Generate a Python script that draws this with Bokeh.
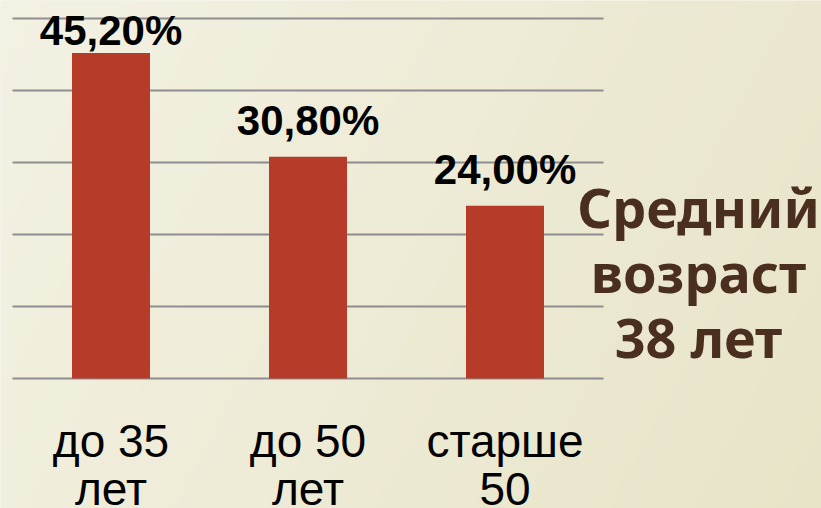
import numpy as np
from bokeh.plotting import figure
from bokeh.models import Range1d
from bokeh.core.properties import value
from bokeh.embed import file_html
from bokeh.resources import INLINE

# ---- data ----
categories = ["до 35\nлет", "до 50\nлет", "старше\n50"]
shares = [45.2, 30.8, 24.0]
share_labels = ["45,20%", "30,80%", "24,00%"]
grid_ticks = [0, 10, 20, 30, 40, 50]
note_lines = ["Средний", "возраст", "38 лет"]

# ---- layout ----
W, H = 821, 508
PX_X = 197.0   # pixels per category slot
PX_Y = 7.2     # pixels per percent
X0 = 12        # pixel column of x = 0
Y0 = 378       # pixel row of y = 0


def xdata(px):
    return (px - X0) / PX_X


def ydata(py):
    return (Y0 - py) / PX_Y


p = figure(width=W, height=H, output_backend="svg", toolbar_location=None,
           x_range=Range1d(xdata(0), xdata(W)), y_range=Range1d(ydata(H), ydata(0)),
           x_axis_location=None, y_axis_location=None, min_border=0,
           background_fill_color="#eeebd6", border_fill_color="#eeebd6",
           outline_line_color=None)
p.grid.visible = False

# soft cream background gradient (light top-left -> warmer right)
GX, GY = 164, 102
gx = np.linspace(0, 1, GX)[None, :]
gy = np.linspace(0, 1, GY)[:, None]
t = np.clip(0.75 * gx + 0.25 * gy, 0, 1)
c0 = np.array([243, 241, 227])
c1 = np.array([232, 228, 200])
rgb = c0[None, None, :] * (1 - t[..., None]) + c1[None, None, :] * t[..., None]
rgba = np.empty((GY, GX, 4), dtype=np.uint8)
rgba[..., :3] = np.round(rgb).astype(np.uint8)
rgba[..., 3] = 255
rgba = rgba[::-1]  # row 0 is the bottom of the image
img = rgba.view(dtype=np.uint32).reshape((GY, GX))
p.image_rgba(image=[img], x=xdata(0), y=ydata(H), dw=xdata(W) - xdata(0), dh=ydata(0) - ydata(H))

n = len(categories)
xs = [i + 0.5 for i in range(n)]

# grid lines + axis line
p.segment(x0=[0] * len(grid_ticks), x1=[n] * len(grid_ticks), y0=grid_ticks, y1=grid_ticks,
          line_color="#8e8e8e", line_width=2)

# bars
p.vbar(x=xs, top=shares, bottom=0, width=78 / PX_X, fill_color="#b63b28", line_color=None)

# value labels (screen offset from bar top; first one is held below the top edge)
VAL_FS = 42
val_shift = 0.33 * VAL_FS
offsets = []
for v in shares:
    top_px = Y0 - v * PX_Y
    base = max(top_px - 22, 44)
    offsets.append(base - top_px - val_shift)
p.text(x=xs, y=shares, text=share_labels, y_offset=offsets, text_align="center",
       text_baseline="alphabetic", text_font=value("Liberation Sans"), text_font_style="bold",
       text_font_size=f"{VAL_FS}px", text_color="#000000")

# category labels (two lines)
CAT_FS = 46
cat_shift = 0.39 * CAT_FS
line1 = [c.split("\n")[0] for c in categories]
line2 = [c.split("\n")[1] for c in categories]
for txt, py in ((line1, 458), (line2, 506)):
    p.text(x=xs, y=[ydata(py - cat_shift)] * n, text=txt, text_align="center",
           text_baseline="alphabetic", text_font=value("Liberation Sans"),
           text_font_size=f"{CAT_FS}px", text_color="#000000")

# side note
NOTE_FS = 54
note_shift = 0.40 * NOTE_FS
p.text(x=[xdata(698)] * len(note_lines),
       y=[ydata(py - note_shift) for py in (228, 293, 358)], text=note_lines,
       text_align="center", text_baseline="alphabetic", text_font=value("Noto Sans"),
       text_font_style="bold", text_font_size=f"{NOTE_FS}px", text_color="#4a2f1f")

open("out.html", "w").write(file_html(p, INLINE))
